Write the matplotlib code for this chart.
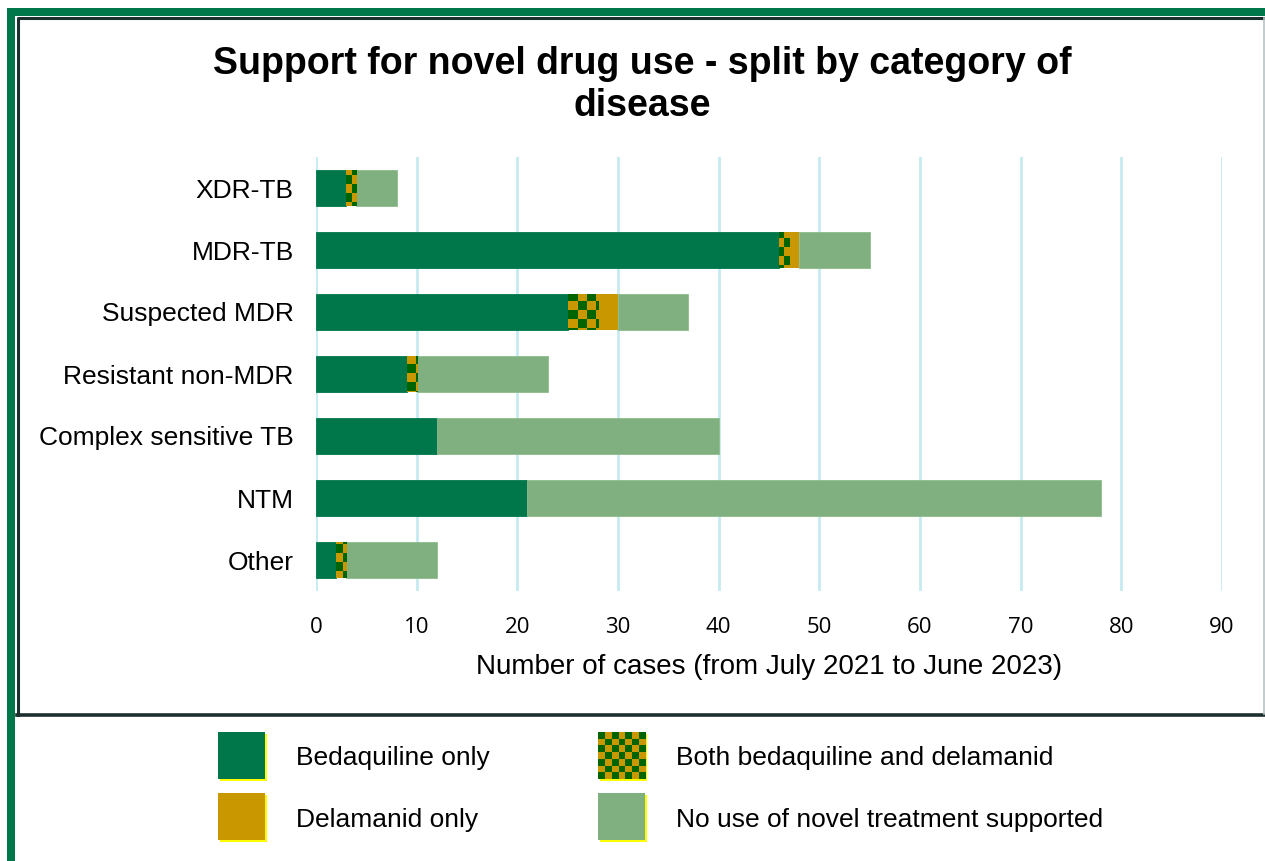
import numpy as np
import matplotlib
matplotlib.use("Agg")
import matplotlib.pyplot as plt
from matplotlib.patches import Rectangle
from matplotlib.lines import Line2D
from matplotlib.colors import ListedColormap

# ---------------- data ----------------
categories = ["XDR-TB", "MDR-TB", "Suspected MDR", "Resistant non-MDR",
              "Complex sensitive TB", "NTM", "Other"]
bedaquiline_only = [3, 46, 25, 9, 12, 21, 2]
both_drugs = [1, 1, 3, 1, 0, 0, 1]
delamanid_only = [0, 1, 2, 0, 0, 0, 0]
no_novel = [4, 7, 7, 13, 28, 57, 9]
series_names = ["Bedaquiline only", "Delamanid only",
                "Both bedaquiline and delamanid",
                "No use of novel treatment supported"]
x_ticks = [0, 10, 20, 30, 40, 50, 60, 70, 80, 90]
title_text = "Support for novel drug use - split by category of\ndisease"
xlabel_text = "Number of cases (from July 2021 to June 2023)"

# ---------------- style ----------------
C_BED = "#00774A"
C_DEL = "#C99700"
C_NONE = "#80B080"
C_CHK = "#006400"
C_GRID = "#C6EAF1"
C_FRAME = "#00774A"
FONT = "Liberation Sans"
plt.rcParams["font.family"] = [FONT, "DejaVu Sans"]

W, H = 1265, 861
fig = plt.figure(figsize=(W / 100, H / 100), dpi=100)


def fx(px):
    return px / W


def fy(py):
    return 1 - py / H


def frect(x0, y0, x1, y1, **kw):
    r = Rectangle((fx(x0), fy(y1)), fx(x1) - fx(x0), fy(y0) - fy(y1),
                  transform=fig.transFigure, **kw)
    fig.add_artist(r)
    return r


def fline(xs, ys, **kw):
    ln = Line2D([fx(v) for v in xs], [fy(v) for v in ys],
                transform=fig.transFigure, **kw)
    fig.add_artist(ln)


# outer green frame (left and top)
frect(7, 8, 15, H + 5, facecolor=C_FRAME, edgecolor="none")
frect(7, 8, W + 5, 16, facecolor=C_FRAME, edgecolor="none")
# inner chart box
fline([18, 18, W + 2], [715, 17.5, 17.5], color="#1D2E2E", lw=2.2)
fline([17, W + 2], [714.5, 714.5], color="#1D2E2E", lw=2.6)
fline([1263.5, 1263.5], [18, 714], color="#B8C4C4", lw=1.2)

# ---------------- axes ----------------
ax_left, ax_right, ax_top, ax_bottom = 316, 1222, 157, 591
ax = fig.add_axes([fx(ax_left), fy(ax_bottom), fx(ax_right) - fx(ax_left),
                   fy(ax_top) - fy(ax_bottom)])

y = np.arange(len(categories))
bh = 0.58
left = np.zeros(len(categories))
ax.barh(y, bedaquiline_only, left=left, height=bh, color=C_BED,
        edgecolor=C_BED, linewidth=0.6, zorder=3)
left = left + np.array(bedaquiline_only)
both_bars = ax.barh(y, both_drugs, left=left, height=bh, color=C_DEL,
                    edgecolor="none", zorder=3)
left = left + np.array(both_drugs)
ax.barh(y, delamanid_only, left=left, height=bh, color=C_DEL,
        edgecolor="none", zorder=3)
left = left + np.array(delamanid_only)
ax.barh(y, no_novel, left=left, height=bh, color=C_NONE,
        edgecolor="#8CBC8C", linewidth=0.6, zorder=3)

# checkerboard fill for the "both" segments
sq = 9.0
nx = int(np.ceil((ax_right - ax_left) / sq))
ny = int(np.ceil((ax_bottom - ax_top) / sq))
checker = (np.add.outer(np.arange(ny), np.arange(nx)) % 2).astype(float)
cmap_chk = ListedColormap([C_DEL, C_CHK])
for patch, v in zip(both_bars.patches, both_drugs):
    if v <= 0:
        continue
    im = ax.imshow(checker, extent=(0, nx * sq / (ax_right - ax_left),
                                    1 - ny * sq / (ax_bottom - ax_top), 1),
                   transform=ax.transAxes, cmap=cmap_chk,
                   interpolation="nearest", aspect="auto", zorder=4)
    im.set_clip_path(patch)

ax.set_xlim(0, 90)
ax.set_ylim(len(categories) - 0.5, -0.5)
ax.set_aspect("auto")
ax.set_xticks(x_ticks)
ax.set_xticklabels([str(t) for t in x_ticks], family=["Open Sans", "DejaVu Sans"])
ax.set_yticks(y)
ax.set_yticklabels(categories)
ax.tick_params(axis="both", length=0, colors="black")
ax.tick_params(axis="x", pad=19, labelsize=16)
ax.tick_params(axis="y", pad=16, labelsize=19)
ax.xaxis.grid(True, color=C_GRID, linewidth=2, zorder=0)
ax.set_axisbelow(True)
for s in ax.spines.values():
    s.set_visible(False)
ax.set_xlabel(xlabel_text, fontsize=20, labelpad=11)

fig.text(fx(642), fy(85), title_text, ha="center", va="center",
         fontsize=27, fontweight="bold", linespacing=1.18)

# ---------------- legend ----------------
leg_items = [
    (218, 732, series_names[0], "solid", C_BED),
    (218, 793, series_names[1], "solid", C_DEL),
    (598, 732, series_names[2], "checker", None),
    (598, 793, series_names[3], "solid", C_NONE),
]
sw = 47
for x0, y0, label, kind, col in leg_items:
    frect(x0 + 2, y0 + 2, x0 + sw + 2, y0 + sw + 2, facecolor="#FFFF00",
          edgecolor="none")
    if kind == "solid":
        frect(x0, y0, x0 + sw, y0 + sw, facecolor=col, edgecolor="none")
    else:
        lax = fig.add_axes([fx(x0), fy(y0 + sw), fx(x0 + sw) - fx(x0),
                            fy(y0) - fy(y0 + sw)])
        lax.set_zorder(10)
        n = 7
        cb = (np.add.outer(np.arange(n), np.arange(n)) % 2).astype(float)
        lax.imshow(cb, cmap=ListedColormap([C_CHK, C_DEL]),
                   interpolation="nearest", aspect="auto")
        lax.set_axis_off()
    fig.text(fx(x0 + 78), fy(y0 + sw / 2 + 3), label, ha="left",
             va="center", fontsize=19)

fig.savefig("out.png", dpi=100)
